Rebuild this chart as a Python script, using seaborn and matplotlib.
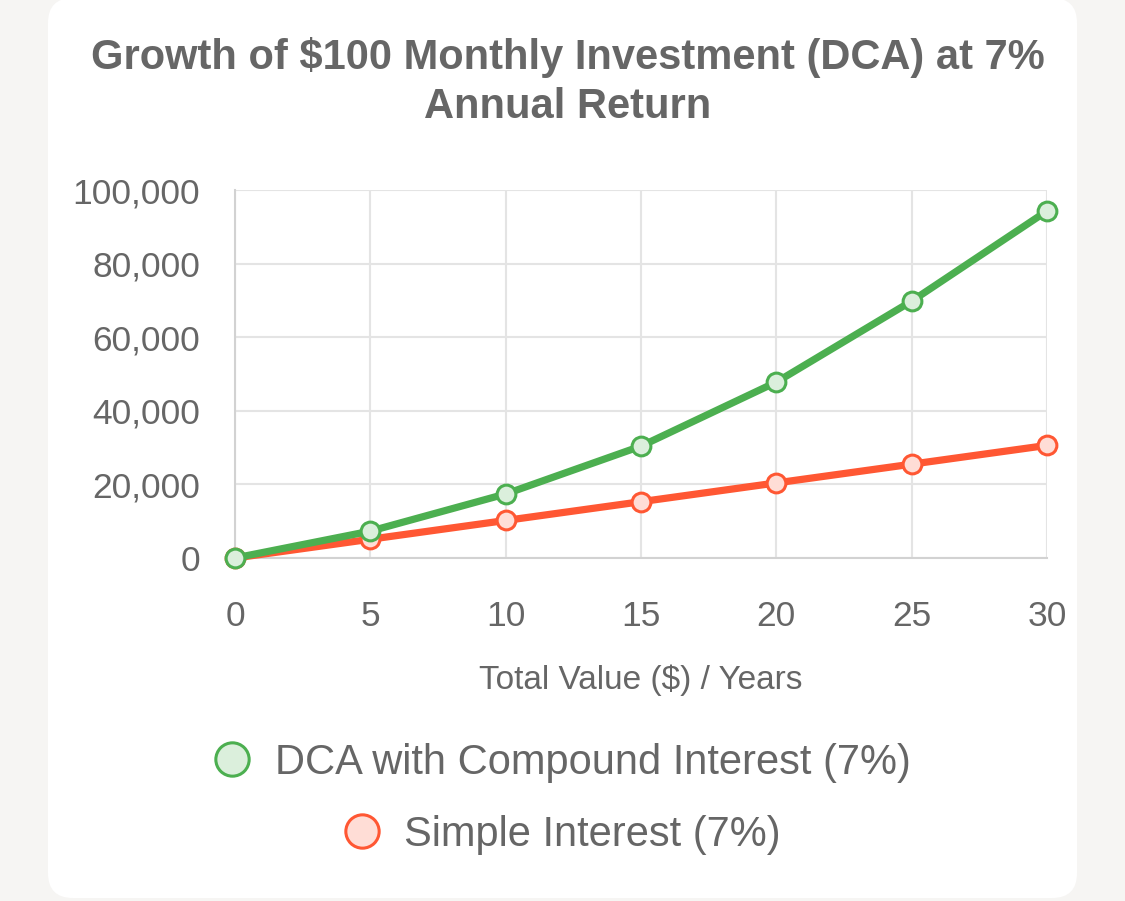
import matplotlib
matplotlib.use("Agg")
import matplotlib.pyplot as plt
from matplotlib.patches import FancyBboxPatch
from matplotlib.lines import Line2D
from matplotlib.ticker import StrMethodFormatter
import seaborn as sns
import pandas as pd

# values
years = [0, 5, 10, 15, 20, 25, 30]
dca_compound = [0, 7300, 17400, 30400, 47800, 69800, 94300]
simple_interest = [0, 5100, 10200, 15300, 20400, 25500, 30600]
series_names = ["DCA with Compound Interest (7%)", "Simple Interest (7%)"]
title_text = "Growth of $100 Monthly Investment (DCA) at 7%\nAnnual Return"
xlabel_text = "Total Value ($) / Years"

green = "#4caf50"
red = "#ff5733"
green_face = "#dbefdc"
red_face = "#ffddd6"
grey_text = "#666666"
grid_col = "#e4e4e4"

sns.set_theme(style="white")
plt.rcParams["font.family"] = ["Liberation Sans", "DejaVu Sans"]

df_dca = pd.DataFrame({"year": years, "value": dca_compound})
df_simple = pd.DataFrame({"year": years, "value": simple_interest})

fig = plt.figure(figsize=(11.25, 9.01), dpi=100)
fig.patch.set_facecolor("#f6f5f3")

# white card behind the chart
card = FancyBboxPatch((0.48, 0.03), 10.29, 9.0,
                      boxstyle="round,pad=0,rounding_size=0.25",
                      transform=fig.dpi_scale_trans, facecolor="white",
                      edgecolor="none", zorder=-10)
fig.patches.append(card)

ax = fig.add_axes([235 / 1125, 343 / 901, 812 / 1125, 368 / 901])
ax.set_facecolor("none")
ax.set_zorder(1)

sns.lineplot(data=df_simple, x="year", y="value", ax=ax, color=red, lw=5.2,
             marker="o", markersize=13.5, markerfacecolor=red_face,
             markeredgecolor=red, markeredgewidth=2.2, clip_on=False, zorder=3)
sns.lineplot(data=df_dca, x="year", y="value", ax=ax, color=green, lw=5.2,
             marker="o", markersize=13.5, markerfacecolor=green_face,
             markeredgecolor=green, markeredgewidth=2.2, clip_on=False, zorder=4)

ax.set_xlim(0, 30)
ax.set_ylim(0, 100000)
ax.set_xticks(years)
ax.set_yticks(range(0, 100001, 20000))
ax.yaxis.set_major_formatter(StrMethodFormatter("{x:,.0f}"))

ax.grid(True, color=grid_col, lw=1.5)
for s in ["top", "right"]:
    ax.spines[s].set_visible(False)
for s in ["left", "bottom"]:
    ax.spines[s].set_color("#d2d2d2")
    ax.spines[s].set_linewidth(1.5)

ax.tick_params(axis="y", length=17, width=1.5, color=grid_col, pad=8,
               labelsize=25.5, labelcolor=grey_text)
ax.tick_params(axis="x", length=14, width=1.5, color=grid_col, pad=16,
               labelsize=25.5, labelcolor=grey_text)
ax.set_xlabel(xlabel_text, fontsize=24, color=grey_text, labelpad=23)
ax.set_ylabel("")

fig.text(568 / 1125, 1 - 82 / 901, title_text, ha="center", va="center",
         fontsize=30, fontweight="bold", color=grey_text, linespacing=1.32)

# one legend per row so each row is centred like the original
rows = [(series_names[0], green, green_face, 763),
        (series_names[1], red, red_face, 835)]
for name, edge, face, ypix in rows:
    h = Line2D([], [], linestyle="none", marker="o", markersize=24,
               markerfacecolor=face, markeredgecolor=edge, markeredgewidth=2.2)
    leg = fig.legend(handles=[h], labels=[name], loc="center",
                     bbox_to_anchor=(0.5, 1 - ypix / 901), frameon=False,
                     fontsize=30, handlelength=0.85, handletextpad=0.6,
                     borderpad=0, borderaxespad=0)
    for t in leg.get_texts():
        t.set_color(grey_text)

fig.savefig("out.png", dpi=100, facecolor=fig.get_facecolor())
